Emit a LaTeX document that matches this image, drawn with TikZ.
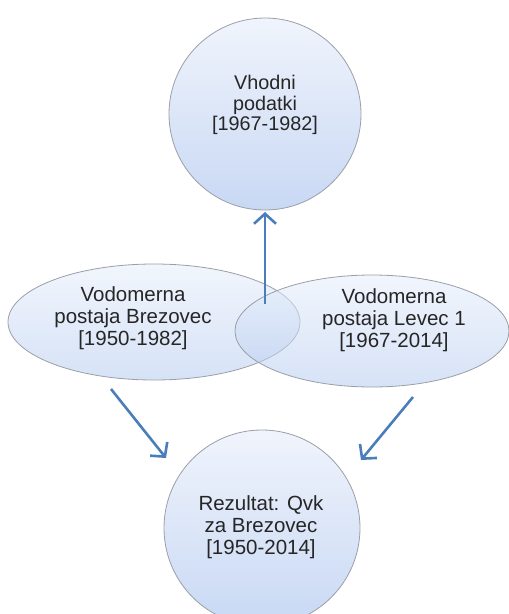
\documentclass[tikz,border=0pt]{standalone}
\usepackage{fontspec}
\setmainfont{Liberation Sans}
\usetikzlibrary{shapes.geometric,arrows.meta}
\definecolor{shtop}{HTML}{F0F4FC}
\definecolor{shbot}{HTML}{C8D8F4}
\definecolor{eltop}{HTML}{E6EEFB}
\definecolor{elbot}{HTML}{B4CAEF}
\definecolor{bord}{HTML}{9A9FA8}
\definecolor{arr}{HTML}{4A7EBB}
\definecolor{txt}{HTML}{262626}
\tikzset{
  circ/.style={circle, draw=bord, line width=0.8pt, top color=shtop, bottom color=shbot, inner sep=0pt},
  ell/.style={ellipse, draw=bord, line width=0.8pt, top color=eltop, bottom color=elbot, fill opacity=0.55, draw opacity=1, inner sep=0pt},
  lbl/.style={align=center, text=txt, font=\fontsize{20.5}{21.7}\selectfont, inner sep=0pt},
  flow/.style={draw=arr, line width=2.6pt, -{Straight Barb[length=10pt,width=22pt,line width=2.6pt]}}
}
\begin{document}
\begin{tikzpicture}[x=1pt,y=-1pt]
\useasboundingbox (0,0) rectangle (509,614);
\node[circ, minimum size=192] (vh) at (265,114) {};
\node[ell, minimum width=292, minimum height=116] (br) at (154,322) {};
\node[ell, minimum width=274, minimum height=112] (le) at (372,331) {};
\node[circ, minimum size=196] (re) at (262,528) {};
\node[lbl, font=\fontsize{19.8}{20.2}\selectfont] (tvh) at (265,105) {Vhodni\\podatki\\{[1967-1982]}};
\node[lbl] (tbr) at (133,318) {Vodomerna\\postaja Brezovec\\{[1950-1982]}};
\node[lbl] (tle) at (394,320) {Vodomerna\\postaja Levec 1\\{[1967-2014]}};
\node[lbl] (tre) at (261,527) {Rezultat: Qvk\\za Brezovec\\{[1950-2014]}};
\coordinate (u1) at (265,304);
\coordinate (u2) at (265,212);
\coordinate (l1) at (111,389);
\coordinate (l2) at (166,458);
\coordinate (r1) at (413,397);
\coordinate (r2) at (361,460);
\draw[flow] (u1) -- (u2);
\draw[flow] (l1) -- (l2);
\draw[flow] (r1) -- (r2);
\end{tikzpicture}
\end{document}
